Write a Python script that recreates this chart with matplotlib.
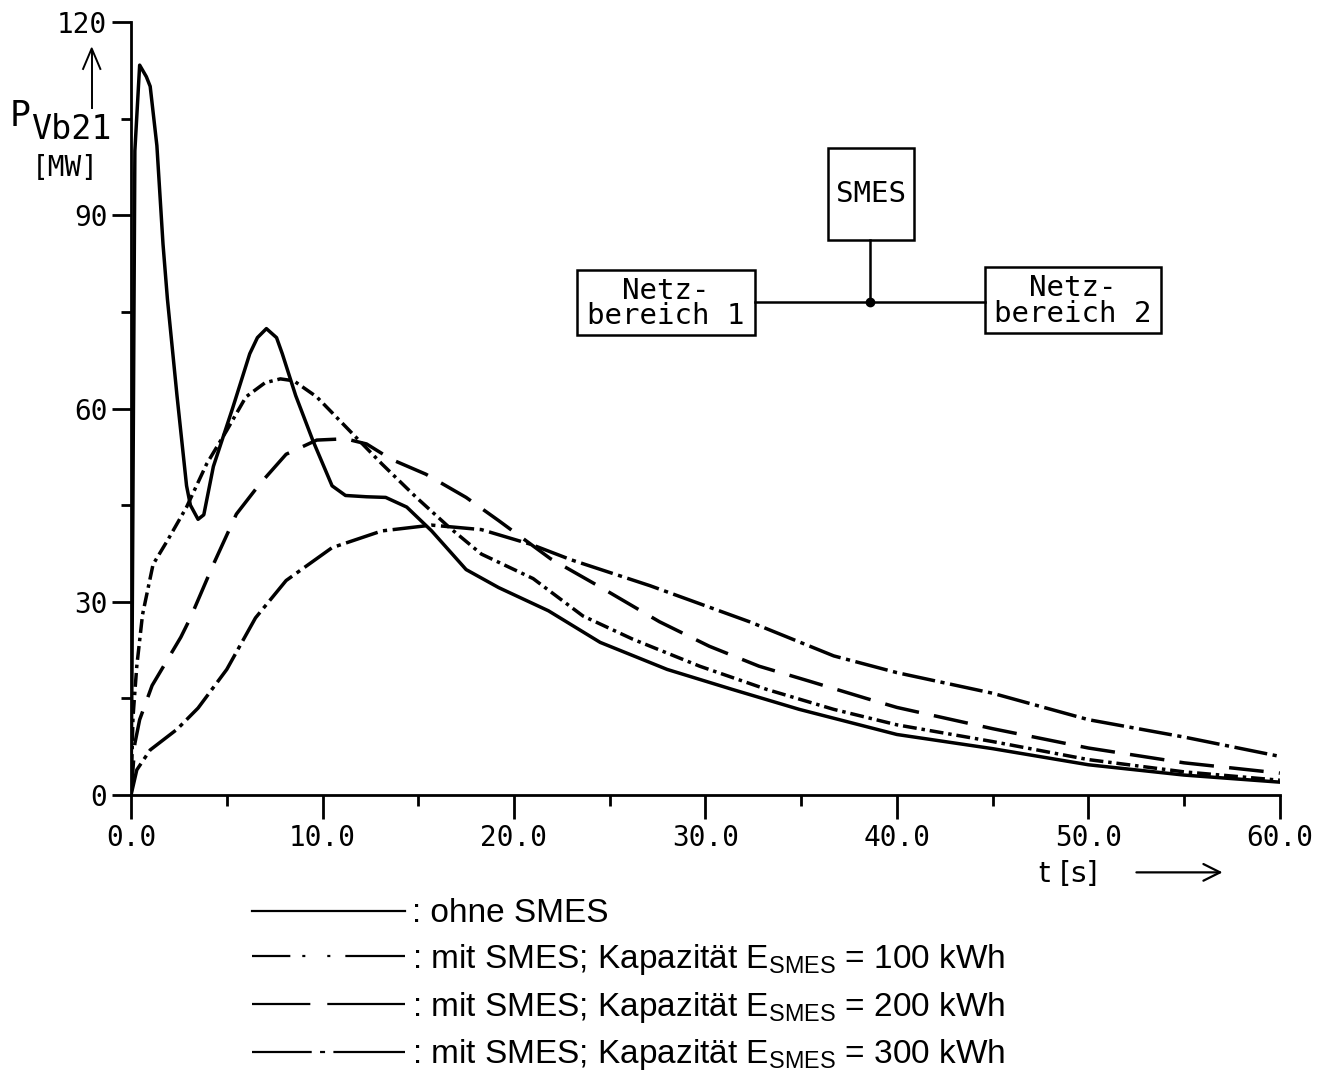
import matplotlib
matplotlib.use("Agg")
import matplotlib.pyplot as plt
from matplotlib.lines import Line2D
from matplotlib.patches import Rectangle

plt.rcParams["lines.scale_dashes"] = False

# --------------------------------------------------
# DATA
# --------------------------------------------------

t_ohne = [0, 0.05, 0.2, 0.45, 0.8, 1.0, 1.35, 1.67, 1.9, 2.4, 2.9, 3.1, 3.5, 3.8,
          4.3, 5.3, 6.2, 6.6, 7.07, 7.6, 7.9, 8.6, 9.5, 10.5, 11.2, 12.3, 13.3,
          14.4, 15.7, 17.5, 19.2, 21.8, 24.5, 28.0, 31.4, 34.9, 40.0, 45.0,
          50.0, 55.0, 60.0]
p_ohne = [0, 20, 100, 113.3, 111.5, 110, 100.8, 85.5, 77, 62, 48, 45, 42.8, 43.5,
          51, 60, 68.5, 71, 72.4, 71, 68.5, 62, 55, 48, 46.5, 46.3, 46.2,
          44.7, 41, 35, 32.2, 28.6, 23.7, 19.5, 16.4, 13.3, 9.4, 7.2,
          4.7, 3.1, 2.0]

t_100 = [0, 0.1, 0.3, 0.6, 1.15, 1.9, 2.9, 3.95, 5.0, 6.0, 7.0, 7.8, 8.5, 9.7,
         11.4, 13.1, 14.9, 16.6, 18.3, 21.0, 23.6, 26.2, 29.7, 33.2, 36.7,
         40.0, 45.0, 50.0, 55.0, 60.0]
p_100 = [0, 12, 20, 28, 35.8, 39.5, 44.7, 51.4, 56.6, 61.8, 64, 64.6, 64.3, 61.8,
         56.6, 51.4, 46.2, 41.6, 37.4, 33.6, 27.8, 24.2, 20, 16.4, 13.3,
         10.9, 8.3, 5.5, 3.6, 2.3]

t_200 = [0, 0.2, 0.45, 1.1, 1.6, 2.6, 3.1, 4.3, 5.5, 6.7, 8.1, 9.7, 11.2, 12.3,
         13.6, 15.4, 17.5, 19.2, 21.9, 24.5, 27.6, 30.2, 32.8, 35.4, 38.4,
         40.0, 45.0, 50.0, 55.0, 60.0]
p_200 = [0, 8, 11.7, 17, 19.5, 24.5, 27.5, 35.8, 43.6, 48.2, 52.9, 55.1, 55.3, 54.5,
         52.1, 49.8, 46.2, 42.6, 36.7, 32.3, 26.9, 23.1, 20, 17.7, 15,
         13.6, 10.3, 7.3, 5.0, 3.4]

t_300 = [0, 0.3, 1.0, 2.4, 3.5, 5.0, 6.5, 8.1, 10.5, 13.1, 15.7, 18.3, 20.9,
         23.0, 27.1, 32.3, 36.7, 40.0, 45.0, 50.0, 55.0, 60.0]
p_300 = [0, 3.9, 7, 10.2, 13.5, 19.5, 27.5, 33.3, 38.4, 41, 41.9, 41.2, 38.9,
         36.5, 32.5, 26.9, 21.6, 19, 15.8, 11.7, 9.0, 6.0]

x_ticks = [0, 10, 20, 30, 40, 50, 60]
x_labels = ["0.0", "10.0", "20.0", "30.0", "40.0", "50.0", "60.0"]
y_ticks = [0, 30, 60, 90, 120]
y_labels = ["0", "30", "60", "90", "120"]

legend_labels = [
    ": ohne SMES",
    r": mit SMES; Kapazität E$_\mathregular{SMES}$ = 100 kWh",
    r": mit SMES; Kapazität E$_\mathregular{SMES}$ = 200 kWh",
    r": mit SMES; Kapazität E$_\mathregular{SMES}$ = 300 kWh",
]

MONO = "DejaVu Sans Mono"
SANS = "Liberation Sans"

# --------------------------------------------------
# FIGURE
# --------------------------------------------------

fig = plt.figure(figsize=(13.29, 10.77), dpi=100)
ax = fig.add_axes([0.0986, 0.2618, 0.8644, 0.7178])

lw = 2.5
ax.plot(t_ohne, p_ohne, color="black", lw=lw, solid_joinstyle="round")
ax.plot(t_100, p_100, color="black", lw=lw, dashes=(10, 3.5, 2.5, 3.5))
ax.plot(t_200, p_200, color="black", lw=lw, dashes=(25, 11))
ax.plot(t_300, p_300, color="black", lw=lw, dashes=(24, 4, 3, 4))

ax.set_xlim(0, 60)
ax.set_ylim(0, 120)

for side in ["top", "right"]:
    ax.spines[side].set_visible(False)
for side in ["left", "bottom"]:
    ax.spines[side].set_linewidth(2)

ax.set_xticks(x_ticks)
ax.set_xticklabels(x_labels, family=MONO, fontsize=20)
ax.set_xticks([5, 15, 25, 35, 45, 55], minor=True)
ax.set_yticks(y_ticks)
ax.set_yticklabels(y_labels, family=MONO, fontsize=20)
ax.set_yticks([15, 45, 75, 105], minor=True)

ax.tick_params(axis="x", which="major", direction="out", length=17, width=2, pad=4)
ax.tick_params(axis="x", which="minor", direction="out", length=8, width=2)
ax.tick_params(axis="y", which="major", direction="out", length=14, width=2, pad=3)
ax.tick_params(axis="y", which="minor", direction="out", length=7, width=2)

# y label with arrow
fig.text(0.0075, 0.883, "P", family=MONO, fontsize=25, va="baseline")
fig.text(0.0235, 0.871, "Vb21", family=MONO, fontsize=24, va="baseline")
fig.text(0.024, 0.837, "[MW]", family=MONO, fontsize=20, va="baseline")
fig.add_artist(Line2D([0.069, 0.069], [0.9, 0.953], color="black", lw=1.4))
fig.add_artist(Line2D([0.0625, 0.069, 0.0755], [0.936, 0.955, 0.936],
                      color="black", lw=1.4))

# x label with arrow
fig.text(0.782, 0.181, "t [s]", family="DejaVu Sans", fontsize=21, va="baseline")
ax.annotate("", xy=(0.922, 0.19), xytext=(0.853, 0.19), xycoords="figure fraction",
            arrowprops=dict(arrowstyle="->", lw=1.6, mutation_scale=30, color="black"))

# --------------------------------------------------
# NETWORK SKETCH
# --------------------------------------------------

box_kw = dict(fill=False, lw=1.8, ec="black", clip_on=False)
ax.add_patch(Rectangle((36.4, 86.2), 4.5, 14.3, **box_kw))
ax.add_patch(Rectangle((23.3, 71.4), 9.3, 10.1, **box_kw))
ax.add_patch(Rectangle((44.6, 71.7), 9.2, 10.3, **box_kw))
ax.plot([32.6, 44.6], [76.6, 76.6], color="black", lw=1.8)
ax.plot([38.6, 38.6], [86.2, 76.6], color="black", lw=1.8)
ax.plot([38.6], [76.6], "o", color="black", ms=6)
ax.text(38.65, 93.3, "SMES", family=MONO, fontsize=21, ha="center", va="center")
ax.text(27.95, 76.3, "Netz-\nbereich 1", family=MONO, fontsize=21,
        ha="center", va="center", linespacing=0.9, multialignment="center")
ax.text(49.2, 76.7, "Netz-\nbereich 2", family=MONO, fontsize=21,
        ha="center", va="center", linespacing=0.9, multialignment="center")

# --------------------------------------------------
# LEGEND (printed below the axes)
# --------------------------------------------------

hl = 1.6
handles = [
    Line2D([], [], color="black", lw=hl),
    Line2D([], [], color="black", lw=hl,
           linestyle=(43, (70.6, 8.6, 2.2, 15.8, 2.2, 10.8))),
    Line2D([], [], color="black", lw=hl, linestyle=(56, (98, 12.2))),
    Line2D([], [], color="black", lw=hl, linestyle=(54, (97, 6, 3.6, 6))),
]
fig.legend(handles, legend_labels, loc="upper left",
           bbox_to_anchor=(0.1896, 0.166), frameon=False,
           prop={"family": SANS, "size": 24}, handlelength=4.6,
           handletextpad=0.2, labelspacing=0.38, borderpad=0, borderaxespad=0)

fig.savefig("out.png", dpi=100)
